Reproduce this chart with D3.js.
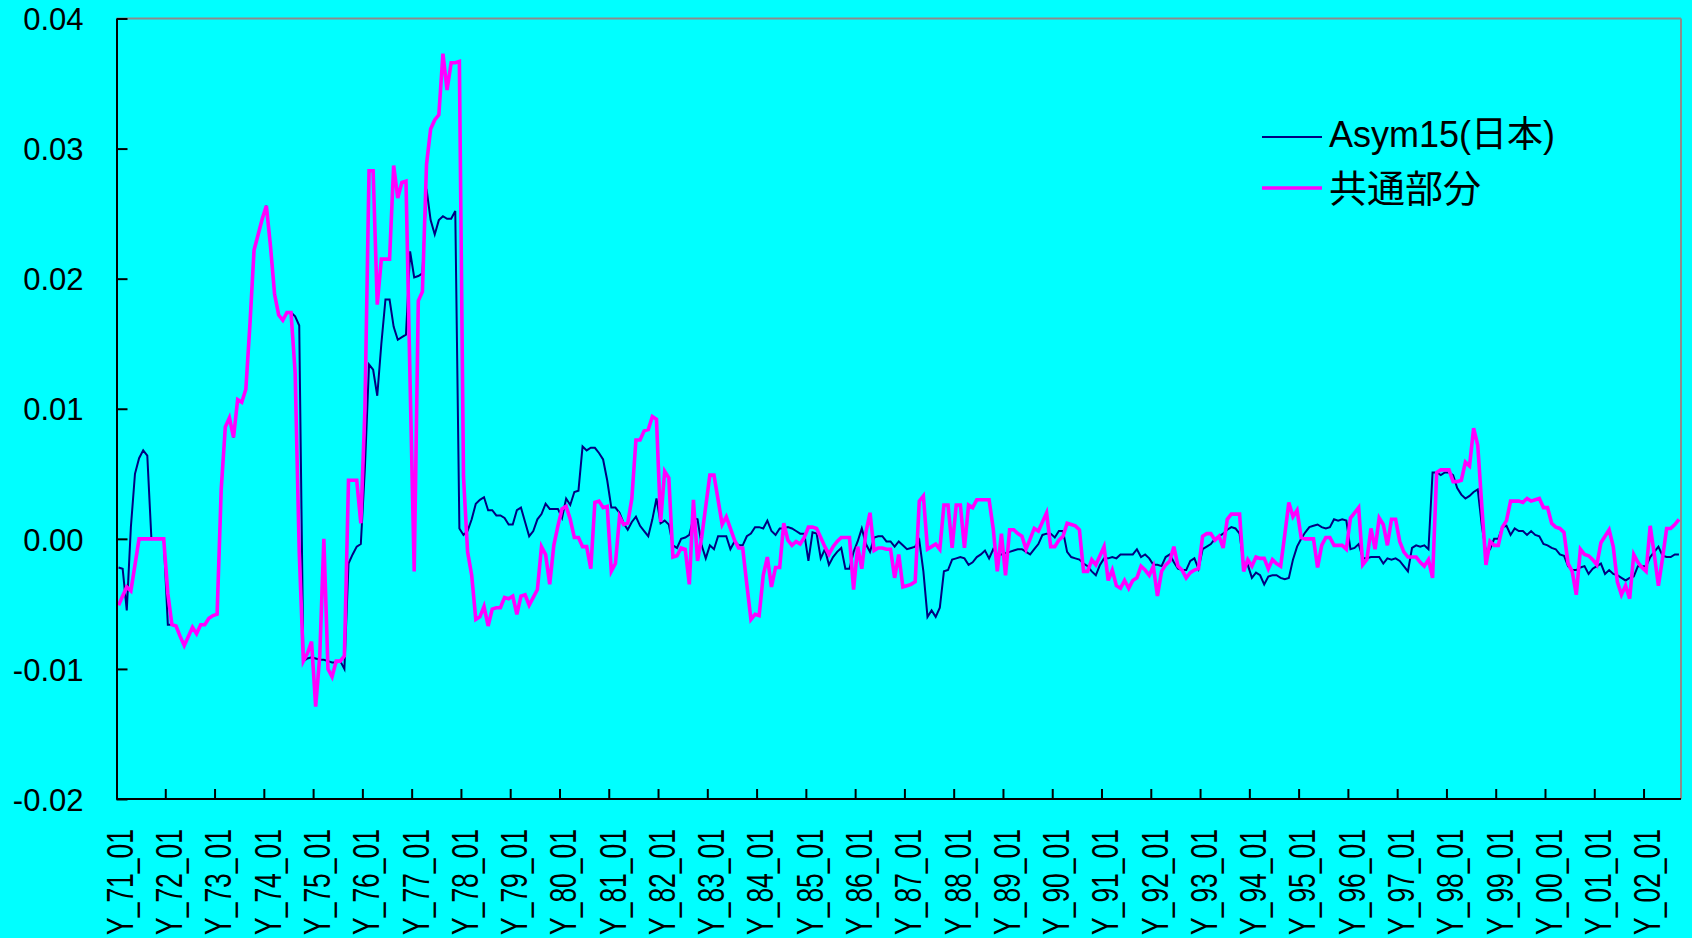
<!DOCTYPE html>
<html>
<head>
<meta charset="utf-8">
<script src="https://cdn.jsdelivr.net/npm/d3@7"></script>
<style>
  html, body { margin: 0; padding: 0; background: #00ffff; }
  svg { display: block; }
  text { font-family: "Liberation Sans", Arial, "Noto Sans CJK JP", sans-serif; fill: #000; }
</style>
</head>
<body>
<svg id="chart" width="1692" height="938"></svg>
<script>
// years on the category axis, monthly data Y_71_01 .. Y_02_09
var years = ["71","72","73","74","75","76","77","78","79","80","81","82","83","84","85","86",
             "87","88","89","90","91","92","93","94","95","96","97","98","99","00","01","02"];
var monthsInLastYear = 9;

var categories = [];
years.forEach(function (yy, k) {
  var n = (k === years.length - 1) ? monthsInLastYear : 12;
  for (var m = 1; m <= n; m++) categories.push("Y_" + yy + "_" + (m < 10 ? "0" + m : m));
});

var seriesNames = ["Asym15(日本)", "共通部分"];

// Asym15(日本), one row per year
var asym15 = [
  -0.0022,-0.0023,-0.0055,0.0009,0.0050,0.0062,0.0068,0.0064,0.0000,0.0000,0.0000,0.0000,
  -0.0066,-0.0066,-0.0067,-0.0075,-0.0082,-0.0075,-0.0068,-0.0073,-0.0066,-0.0066,-0.0061,-0.0059,
  -0.0058,0.0038,0.0086,0.0093,0.0078,0.0107,0.0105,0.0115,0.0165,0.0222,0.0234,0.0246,
  0.0256,0.0225,0.0188,0.0172,0.0168,0.0174,0.0174,0.0171,0.0164,-0.0094,-0.0092,-0.0091,
  -0.0092,-0.0093,-0.0093,-0.0094,-0.0095,-0.0095,-0.0094,-0.0100,-0.0019,-0.0012,-0.0006,-0.0004,
  0.0055,0.0134,0.0130,0.0110,0.0150,0.0184,0.0184,0.0163,0.0153,0.0155,0.0157,0.0221,
  0.0201,0.0202,0.0204,0.0269,0.0245,0.0234,0.0245,0.0248,0.0246,0.0246,0.0252,0.0008,
  0.0003,0.0006,0.0015,0.0027,0.0030,0.0032,0.0022,0.0022,0.0018,0.0018,0.0016,0.0011,
  0.0011,0.0022,0.0024,0.0013,0.0002,0.0006,0.0015,0.0019,0.0027,0.0023,0.0023,0.0023,
  0.0016,0.0031,0.0026,0.0036,0.0037,0.0071,0.0068,0.0070,0.0070,0.0066,0.0061,0.0045,
  0.0024,0.0024,0.0020,0.0012,0.0007,0.0013,0.0017,0.0010,0.0006,0.0002,0.0015,0.0031,
  0.0012,0.0014,0.0011,-0.0005,-0.0007,0.0000,0.0001,0.0003,0.0016,0.0015,-0.0005,-0.0015,
  -0.0005,-0.0008,0.0002,0.0002,0.0002,-0.0008,-0.0002,-0.0005,-0.0005,0.0002,0.0004,0.0009,
  0.0009,0.0008,0.0014,0.0006,0.0003,0.0008,0.0008,0.0009,0.0008,0.0006,0.0004,0.0004,
  -0.0017,0.0005,0.0004,-0.0015,-0.0008,-0.0020,-0.0014,-0.0010,-0.0007,-0.0023,-0.0023,-0.0010,
  -0.0002,0.0008,-0.0004,-0.0010,0.0001,0.0002,0.0002,-0.0002,-0.0002,-0.0006,-0.0002,-0.0005,
  -0.0008,-0.0007,-0.0006,-0.0001,-0.0025,-0.0060,-0.0055,-0.0060,-0.0053,-0.0025,-0.0024,-0.0016,
  -0.0015,-0.0014,-0.0015,-0.0020,-0.0018,-0.0014,-0.0012,-0.0009,-0.0015,-0.0008,-0.0012,-0.0012,
  -0.0011,-0.0010,-0.0009,-0.0008,-0.0008,-0.0010,-0.0012,-0.0008,-0.0004,0.0003,0.0004,0.0004,
  0.0001,0.0006,0.0006,-0.0010,-0.0014,-0.0015,-0.0016,-0.0019,-0.0021,-0.0025,-0.0028,-0.0020,
  -0.0015,-0.0015,-0.0014,-0.0015,-0.0012,-0.0012,-0.0012,-0.0012,-0.0008,-0.0014,-0.0012,-0.0015,
  -0.0020,-0.0020,-0.0021,-0.0014,-0.0012,-0.0018,-0.0023,-0.0024,-0.0024,-0.0017,-0.0015,-0.0023,
  -0.0008,-0.0006,-0.0004,0.0000,0.0002,0.0004,0.0007,0.0009,0.0008,0.0004,-0.0020,-0.0020,
  -0.0030,-0.0026,-0.0028,-0.0035,-0.0029,-0.0028,-0.0028,-0.0030,-0.0031,-0.0030,-0.0016,-0.0006,
  0.0000,0.0005,0.0009,0.0010,0.0011,0.0009,0.0008,0.0009,0.0015,0.0014,0.0015,0.0014,
  -0.0008,-0.0007,-0.0004,-0.0015,-0.0015,-0.0014,-0.0014,-0.0014,-0.0019,-0.0015,-0.0016,-0.0015,
  -0.0017,-0.0021,-0.0025,-0.0007,-0.0005,-0.0006,-0.0005,-0.0008,0.0051,0.0051,0.0049,0.0051,
  0.0051,0.0049,0.0039,0.0034,0.0031,0.0033,0.0036,0.0038,0.0010,-0.0010,-0.0008,0.0000,
  0.0000,0.0009,0.0010,0.0003,0.0008,0.0006,0.0006,0.0003,0.0006,0.0003,0.0002,-0.0004,
  -0.0005,-0.0007,-0.0008,-0.0012,-0.0013,-0.0021,-0.0024,-0.0024,-0.0022,-0.0021,-0.0027,-0.0023,
  -0.0021,-0.0019,-0.0027,-0.0024,-0.0027,-0.0028,-0.0030,-0.0032,-0.0030,-0.0029,-0.0021,-0.0021,
  -0.0021,-0.0014,-0.0010,-0.0006,-0.0013,-0.0014,-0.0014,-0.0012,-0.0012
];

// 共通部分, one row per year
var kyotsu = [
  -0.0051,-0.0044,-0.0037,-0.0040,-0.0020,0.0000,0.0000,0.0000,0.0000,0.0000,0.0000,0.0000,
  -0.0042,-0.0066,-0.0067,-0.0075,-0.0082,-0.0075,-0.0068,-0.0073,-0.0066,-0.0066,-0.0061,-0.0059,
  -0.0058,0.0038,0.0086,0.0093,0.0078,0.0107,0.0105,0.0115,0.0165,0.0222,0.0234,0.0246,
  0.0256,0.0225,0.0188,0.0172,0.0168,0.0174,0.0174,0.0128,-0.0010,-0.0094,-0.0088,-0.0079,
  -0.0129,-0.0090,0.0000,-0.0100,-0.0106,-0.0094,-0.0094,-0.0090,0.0045,0.0045,0.0045,0.0012,
  0.0100,0.0283,0.0283,0.0180,0.0215,0.0215,0.0215,0.0287,0.0262,0.0274,0.0275,0.0120,
  -0.0025,0.0183,0.0190,0.0288,0.0315,0.0322,0.0326,0.0373,0.0345,0.0366,0.0366,0.0367,
  0.0048,-0.0010,-0.0028,-0.0062,-0.0060,-0.0052,-0.0067,-0.0054,-0.0053,-0.0053,-0.0045,-0.0046,
  -0.0044,-0.0058,-0.0044,-0.0043,-0.0051,-0.0045,-0.0039,-0.0006,-0.0012,-0.0035,-0.0005,0.0010,
  0.0023,0.0025,0.0015,0.0001,0.0001,-0.0006,-0.0006,-0.0023,0.0028,0.0029,0.0024,0.0025,
  -0.0025,-0.0019,0.0017,0.0011,0.0012,0.0031,0.0076,0.0076,0.0083,0.0084,0.0094,0.0092,
  0.0013,0.0052,0.0047,-0.0014,-0.0013,-0.0007,-0.0008,-0.0035,0.0030,-0.0017,0.0001,0.0025,
  0.0049,0.0049,0.0030,0.0011,0.0017,0.0008,-0.0001,-0.0007,-0.0007,-0.0035,-0.0062,-0.0058,
  -0.0059,-0.0028,-0.0014,-0.0037,-0.0022,-0.0022,0.0012,-0.0001,-0.0005,-0.0002,-0.0004,0.0001,
  0.0009,0.0009,0.0008,0.0001,-0.0006,-0.0012,-0.0006,-0.0002,0.0001,0.0001,0.0001,-0.0039,
  -0.0006,-0.0023,0.0005,0.0020,-0.0009,-0.0007,-0.0007,-0.0008,-0.0008,-0.0030,-0.0012,-0.0037,
  -0.0036,-0.0035,-0.0033,0.0029,0.0033,-0.0008,-0.0006,-0.0004,-0.0008,0.0026,0.0026,-0.0007,
  0.0026,0.0026,-0.0007,0.0026,0.0024,0.0030,0.0030,0.0030,0.0030,0.0008,-0.0025,0.0004,
  -0.0028,0.0007,0.0007,0.0004,0.0002,-0.0008,0.0000,0.0008,0.0006,0.0013,0.0020,-0.0006,
  -0.0006,-0.0001,0.0002,0.0012,0.0011,0.0010,0.0007,-0.0025,-0.0025,-0.0016,-0.0020,-0.0013,
  -0.0006,-0.0032,-0.0024,-0.0036,-0.0038,-0.0032,-0.0038,-0.0032,-0.0030,-0.0021,-0.0024,-0.0028,
  -0.0021,-0.0044,-0.0025,-0.0020,-0.0017,-0.0006,-0.0021,-0.0024,-0.0030,-0.0026,-0.0024,-0.0023,
  0.0002,0.0004,0.0004,-0.0001,0.0002,-0.0007,0.0015,0.0019,0.0019,0.0019,-0.0025,-0.0016,
  -0.0021,-0.0014,-0.0015,-0.0015,-0.0023,-0.0016,-0.0019,-0.0021,0.0003,0.0028,0.0017,0.0022,
  0.0001,0.0000,0.0000,0.0000,-0.0022,-0.0005,0.0001,0.0001,-0.0005,-0.0005,-0.0005,-0.0008,
  0.0016,0.0020,0.0024,-0.0020,-0.0016,0.0008,-0.0008,0.0016,0.0011,-0.0005,0.0015,0.0015,
  -0.0002,-0.0010,-0.0014,-0.0014,-0.0014,-0.0018,-0.0021,-0.0016,-0.0030,0.0051,0.0053,0.0053,
  0.0053,0.0044,0.0044,0.0045,0.0059,0.0056,0.0085,0.0072,0.0025,-0.0020,-0.0002,-0.0005,
  -0.0005,0.0009,0.0014,0.0029,0.0029,0.0029,0.0028,0.0031,0.0029,0.0030,0.0031,0.0024,
  0.0024,0.0012,0.0009,0.0008,0.0005,-0.0019,-0.0025,-0.0043,-0.0008,-0.0012,-0.0013,-0.0016,
  -0.0020,-0.0003,0.0002,0.0007,-0.0006,-0.0033,-0.0043,-0.0036,-0.0046,-0.0012,-0.0018,-0.0022,
  -0.0025,0.0010,-0.0012,-0.0036,-0.0015,0.0008,0.0008,0.0011,0.0015
];

var yTicks = [-0.02, -0.01, 0.00, 0.01, 0.02, 0.03, 0.04];

// layout
var margin = {top: 18.5, right: 11, bottom: 139, left: 116.5},
    width = 1692 - margin.left - margin.right,
    height = 938 - margin.top - margin.bottom;

var svg = d3.select("#chart");
var g = svg.append("g")
    .attr("transform", "translate(" + margin.left + "," + margin.top + ")");

var x = d3.scaleBand()
    .domain(categories)
    .range([0, width])
    .paddingInner(0)
    .paddingOuter(0);
var bw = x.bandwidth();

var y = d3.scaleLinear()
    .domain([-0.02, 0.04])
    .range([height, 0]);

// plot area border (top / right in grey)
g.append("line")
    .attr("x1", 0).attr("x2", width).attr("y1", 0).attr("y2", 0)
    .attr("stroke", "#8c8c8c").attr("stroke-width", 2);
g.append("line")
    .attr("x1", width).attr("x2", width).attr("y1", 0).attr("y2", height)
    .attr("stroke", "#8c8c8c").attr("stroke-width", 2);

// series
var line = d3.line()
    .x(function (d, i) { return x(categories[i]) + bw / 2; })
    .y(function (d) { return y(d); });

g.append("path")
    .datum(asym15)
    .attr("fill", "none")
    .attr("stroke", "#000080")
    .attr("stroke-width", 2)
    .attr("stroke-linejoin", "miter")
    .attr("d", line);

g.append("path")
    .datum(kyotsu)
    .attr("fill", "none")
    .attr("stroke", "#ff00ff")
    .attr("stroke-width", 3.6)
    .attr("stroke-linejoin", "miter")
    .attr("d", line);

// y axis, ticks pointing inside
var yAxis = g.append("g")
    .call(d3.axisLeft(y)
      .tickValues(yTicks)
      .tickSizeInner(-11)
      .tickSizeOuter(0)
      .tickPadding(33)
      .tickFormat(function (d) { return d.toFixed(2); }));
yAxis.select(".domain").attr("stroke", "#000").attr("stroke-width", 2);
yAxis.selectAll(".tick line").attr("stroke", "#000").attr("stroke-width", 2);
yAxis.selectAll(".tick text")
    .attr("font-family", null)
    .style("font-size", "31px")
    .attr("dy", "0.36em");

// x axis: ticks at category boundaries every 12 months, labels at category centres
var janCats = categories.filter(function (c) { return /_01$/.test(c); });

var xAxis = g.append("g").attr("transform", "translate(0," + height + ")");
xAxis.append("line")
    .attr("x1", 0).attr("x2", width)
    .attr("stroke", "#000").attr("stroke-width", 2);
xAxis.selectAll(".tick")
    .data(janCats.slice(1))
  .enter().append("line")
    .attr("x1", function (d) { return x(d); })
    .attr("x2", function (d) { return x(d); })
    .attr("y1", 0).attr("y2", -10)
    .attr("stroke", "#000").attr("stroke-width", 2);
xAxis.selectAll(".label")
    .data(janCats)
  .enter().append("text")
    .attr("transform", function (d) {
      return "translate(" + (x(d) + bw / 2 + 1) + "," + 30 + ") rotate(-90)";
    })
    .attr("text-anchor", "end")
    .attr("dy", "0.36em")
    .attr("textLength", 106)
    .attr("lengthAdjust", "spacingAndGlyphs")
    .style("font-size", "37px")
    .text(function (d) { return d; });

// legend
var legend = svg.append("g");
var legendColors = ["#000080", "#ff00ff"];
var legendWidths = [2, 3.6];
var legendY = [137, 188];
var legendTextY = [134, 188];
var legendFont = ["36px", "38px"];
seriesNames.forEach(function (name, i) {
  legend.append("line")
      .attr("x1", 1262).attr("x2", 1322)
      .attr("y1", legendY[i]).attr("y2", legendY[i])
      .attr("stroke", legendColors[i])
      .attr("stroke-width", legendWidths[i]);
  legend.append("text")
      .attr("x", 1329)
      .attr("y", legendTextY[i])
      .attr("dy", "0.36em")
      .style("font-size", legendFont[i])
      .text(name);
});
</script>
</body>
</html>
